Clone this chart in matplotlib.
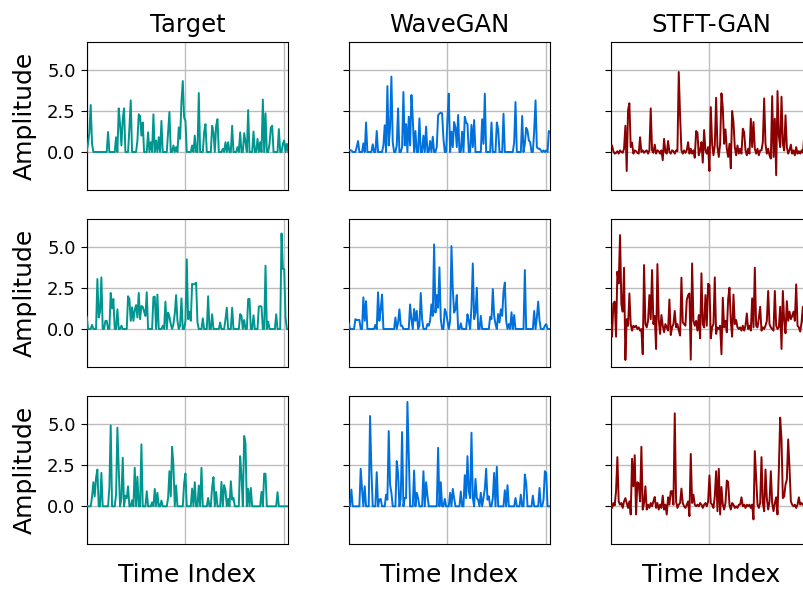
import numpy as np
import matplotlib
matplotlib.use("Agg")
import matplotlib.pyplot as plt

# Column titles and line colours
models = ["Target", "WaveGAN", "STFT-GAN"]
colors = ["#00968f", "#0070dc", "#8b0000"]
y_ticks = [0.0, 2.5, 5.0]
n_samples = 4096

# Amplitude traces, one row per example
target_1 = [0, 0.5, 1.2, 2.87, 0.5, 0, 0, 0, 0, 0,
            0, 0, 0, 0, 0, 0, 1.22, 0, 0, 0,
            0, 0, 0.9, 0, 2.66, 1.7, 0.4, 2.0, 2.66, 0,
            0, 0, 1.48, 3.15, 0, 0, 0, 0, 0.7, 2.3,
            2.2, 1.0, 1.8, 0, 0, 0, 1.2, 0, 0.6, 0,
            2.3, 0, 0.7, 0, 0.9, 0, 1.9, 0, 0, 0,
            0, 1.2, 2.44, 0, 0, 0.4, 0, 0.3, 0, 1.5,
            0.8, 3.07, 4.33, 2.1, 1.9, 0, 0, 0, 0, 0.4,
            0, 1.0, 0, 0, 3.6, 0, 0, 0, 1.2, 1.7,
            0, 0, 0, 0, 1.6, 1.2, 0, 1.6, 2.0, 0,
            0, 0, 0.2, 0, 0.6, 0, 0.6, 0, 0, 1.6,
            0, 0, 0, 0.3, 0, 1.2, 0, 0, 1.15, 0.6,
            0, 2.56, 0, 0, 0, 1.25, 0, 0, 0.8, 0,
            0.6, 0, 3.2, 0, 2.36, 0, 0, 0.5, 1.5, 1.6,
            0, 0, 0, 0, 1.4, 0, 0, 0.5, 0.7, 0,
            0.5, 0]
wavegan_1 = [0.1, 0.1, 0.1, 0, 0, 0, 0.3, 0.67, 0, 0,
             0, 0.53, 0, 1.8, 0, 0, 0, 0, 0.47, 0,
             0, 1.28, 0, 0, 0, 0, 0.4, 1.63, 0, 4.02,
             0.4, 1.5, 4.6, 0.6, 0, 0, 0.4, 2.66, 0, 0,
             0.3, 3.66, 0.4, 1.7, 0, 2.15, 0.4, 3.48, 2.1, 0,
             1.28, 0, 0, 2.05, 0, 0, 1.0, 0, 1.55, 0,
             0, 0.67, 0, 0.93, 0, 0, 0.3, 2.24, 2.34, 2.4,
             2.36, 0.8, 0, 0, 2.0, 3.56, 0, 1.24, 0.3, 1.83,
             1.5, 0.3, 2.26, 0, 0, 1.24, 0, 2.15, 1.8, 1.7,
             0, 0, 1.65, 0.3, 1.95, 0, 0, 0, 0, 0,
             2.0, 0.5, 3.56, 0, 0, 0, 0, 1.8, 0, 0,
             0, 1.8, 1.4, 0, 0, 0, 2.34, 0, 0, 0,
             0, 0, 0, 0, 0.6, 3.05, 0, 0, 0, 0,
             2.2, 0, 0.5, 1.48, 1.3, 0.7, 0.6, 0, 0, 1.28,
             3.15, 0.3, 0.2, 0.2, 0.1, 0, 0.1, 0, 0.1, 0,
             1.28, 1.2]
stftgan_1 = [0.4, 0.4, 0.05, -0.1, -0.05, 0.05, -0.1, 0.1, 0.0, -0.05,
             0.2, 1.6, -1.16, 2.56, 2.97, 0.3, 0.57, -0.1, 0.1, 0.05,
             -0.05, -0.1, 0.9, 0.0, 0.1, -0.05, 0.05, 0.1, -0.1, 0.1,
             2.66, 0.1, -0.05, 0.45, -0.1, 0.1, 0.05, -0.1, 0.1, -0.5,
             0.8, 0.0, -0.1, 0.67, 0.0, -0.1, 0.1, 0.05, -0.1, 0.1,
             0.05, 4.88, 2.2, 0.1, -0.1, 0.1, -0.05, 0.1, 0.6, -0.1,
             0.2, -0.1, 0.1, -0.35, 1.28, 1.18, -0.2, 0.1, 0.6, -0.65,
             1.34, 0.1, -0.1, 0.3, -1.16, 2.74, 0.5, -0.2, 0.4, 3.31,
             0.3, -0.3, 0.5, 3.58, 2.7, 0.5, 1.38, 0.2, -0.3, 0.5,
             -1.0, 2.5, 1.83, 0.3, -0.2, 0.4, -0.1, 0.2, -0.1, 1.42,
             1.22, 0.1, -0.2, 0.2, -0.1, 2.03, 0.3, 1.83, 0.2, -0.1,
             0.2, -0.2, 0.1, 0.1, 0.6, 3.27, 0.5, -0.1, 0.2, -0.2,
             -0.4, 3.41, -0.3, 2.03, -1.42, 3.72, 1.0, 0.3, 3.37, 0.5,
             0.1, 2.24, 0.3, -0.1, 0.1, 0.45, -0.1, 0.1, -0.2, 0.3,
             -0.1, 0.05, -0.1, 0.1, -0.05, 0.98, 0.2, -0.1, 0.1, 0.0,
             -0.1, 0.1]

target_2 = [0.75, 0, 0, 0, 0.25, 0, 0, 0, 3.05, 0.7,
            1.06, 3.15, 0, 0, 0.5, 0.5, 0, 0, 2.2, 1.26,
            1.83, 0, 0, 1.2, 0, 0, 0.2, 0, 0, 0,
            0, 2.0, 1.83, 0.5, 1.32, 0.5, 1.16, 1.46, 0.7, 2.2,
            0.6, 1.4, 1.36, 1.06, 0.8, 2.24, 0, 0, 0, 0,
            1.95, 1.97, 0, 2.1, 0, 0, 0, 0.2, 0, 1.67,
            0, 1.0, 0.75, 0.3, 0, 0.3, 0.93, 2.07, 0.5, 0,
            0.2, 1.87, 0, 0, 0.5, 4.25, 0.6, 1.06, 0.5, 2.76,
            2.72, 2.74, 2.83, 0.4, 0, 0, 0, 0.65, 0, 0,
            0, 2.0, 0, 0, 0.9, 0, 0, 0, 0, 0,
            0.4, 0, 0, 0, 0.6, 1.3, 0, 0, 0, 1.3,
            0, 0, 0, 0, 0, 0.91, 0.8, 0, 0.55, 0,
            0, 1.83, 1.83, 0, 0, 0.83, 0, 0, 0, 1.36,
            1.4, 1.36, 0, 0, 3.86, 0, 0.45, 0, 0, 0,
            0, 0, 0.9, 0, 0, 0, 5.83, 3.66, 3.66, 0.7,
            0, 0]
wavegan_2 = [0.35, 0, 0, 0, 0, 0.6, 0.55, 0.55, 0.55, 0,
             0, 1.93, 0.5, 1.7, 0, 0, 0, 0, 0, 0,
             0.25, 0, 2.24, 0.5, 1.2, 2.1, 0, 0, 0, 0,
             0, 0, 0, 0, 0, 0.7, 0, 0.4, 1.2, 0.2,
             0.2, 0, 0, 0, 0, 0, 1.5, 0.6, 0, 1.22,
             0.5, 1.1, 0, 0.2, 2.2, 0.6, 0, 0, 0, 0.3,
             0.2, 0.5, 1.5, 0.8, 5.16, 1.0, 2.07, 1.3, 3.76, 0.6,
             0, 0, 1.22, 1.0, 0.5, 0, 0.5, 5.06, 2.42, 1.0,
             1.2, 2.07, 0, 0, 0.35, 0, 0, 0, 0, 0.9,
             0.5, 0, 1.32, 4.0, 0.6, 1.0, 2.52, 0, 0, 0.8,
             0, 0, 0, 0, 0, 0, 0.75, 0.6, 2.44, 0.8,
             0.3, 0, 0.91, 0.4, 1.2, 0.8, 2.28, 2.83, 0.5, 0,
             0.3, 0, 1.02, 0, 0.85, 0, 0, 0, 0, 0,
             0, 0, 3.6, 0, 0, 0, 0, 0, 0, 1.1,
             0, 0.7, 1.67, 0.5, 0, 0, 0, 0.2, 0.3, 0,
             0, 0]
stftgan_2 = [0.25, -0.47, 1.56, 1.67, -0.47, 3.5, 2.78, 5.73, 1.5, 1.06,
             3.74, -1.89, 0.6, 0.2, 2.17, 0.3, -0.1, 0.2, 0.1, 0.2,
             0.0, 0.1, -0.1, 0.0, -1.54, 3.9, 0.3, 0.1, 0.5, 2.07,
             0.6, 3.6, 0.3, 0.8, -1.22, 3.96, 0.6, -0.3, 0.85, 0.2,
             -0.2, 0.3, 0.1, -0.1, 1.8, -0.37, 0.1, 0.3, 1.1, 0.1,
             0.3, -0.1, -0.4, 3.13, 0.4, 0.3, 0.2, 1.77, 2.07, 2.17,
             -1.87, 4.0, 0.5, 0.2, 0.5, -0.1, 0.85, -0.57, 3.4, 0.3,
             0.1, 2.07, 0.2, 2.76, 2.68, -0.57, 0.1, 0.3, 3.15, -0.3,
             0.1, 0.0, 0.2, -1.54, 1.91, 0.1, 0.5, -0.2, 1.8, 2.52,
             0.5, -0.47, 2.1, 0.3, 0.55, 0.1, 0.0, 0.1, -0.1, 0.2,
             -0.1, 0.2, 0.95, 0.0, 0.2, -0.1, 1.87, 0.1, 3.74, 0.2,
             0.1, 0.65, 1.36, -0.1, 0.1, 0.0, 0.2, 0.5, 2.32, 0.3,
             0.1, 0.0, -0.1, 2.32, 0.2, 0.0, 0.1, 1.36, -1.22, 2.32,
             0.5, -0.26, 1.7, 0.5, 1.06, 0.6, 0.8, 1.06, 0.5, 2.72,
             0.2, 0.1, -0.16, 0.4, 1.36, -0.06, 0.2, -0.1, 0.3, 0.1,
             -0.2, 0.1]

target_3 = [0, 0, 0, 0, 0.57, 1.47, 0.6, 1.73, 2.24, 0,
            0, 2.04, 0, 0, 0, 0, 0, 1.16, 4.94, 0,
            0, 0, 0.71, 4.8, 2.29, 0, 0.5, 2.96, 0, 0.65,
            0.5, 1.22, 0, 0, 0.37, 0, 2.35, 0, 1.8, 0,
            0, 3.78, 0, 0, 0, 0.92, 0, 0, 0, 0.24,
            0, 1.06, 0, 0.82, 0, 0, 0.35, 0, 0, 0,
            0, 0.51, 2.14, 0.6, 3.63, 2.49, 0, 1.27, 0, 0,
            0, 0, 0, 1.39, 2.0, 0, 0, 0, 0, 1.08,
            0, 1.47, 0, 0, 1.27, 0, 2.35, 0, 0, 0,
            0, 0.51, 0, 0, 1.18, 1.78, 0, 0.88, 0, 0,
            0, 1.49, 0, 1.29, 0.96, 0, 0.45, 0, 1.53, 0.4,
            0.51, 0, 0, 0, 0, 3.06, 1.8, 0, 4.29, 3.84,
            0, 1.06, 0, 1.12, 0, 0, 0, 0, 0, 0,
            0, 0.88, 0, 2.0, 1.98, 0, 0, 0, 0, 0,
            0, 0, 0, 0.86, 0, 0, 0, 0, 0, 0,
            0, 0]
wavegan_3 = [0, 0, 1.02, 0, 0, 0, 0, 0, 0, 2.29,
             1.02, 0, 1.22, 0, 0, 0, 5.51, 2.24, 0, 0,
             0, 2.08, 0, 0.41, 0.45, 0, 0, 0, 0.71, 0.4,
             4.59, 1.33, 0.82, 0, 0, 0, 2.76, 2.0, 0, 0.5,
             4.53, 0, 0.5, 0.5, 6.37, 3.27, 0, 0, 0, 2.18,
             0, 0.82, 0.5, 0, 0, 0, 2.14, 0, 1.47, 0.65,
             0, 0, 0, 0, 0, 0, 0, 3.57, 0, 1.47,
             0, 0, 0.45, 0, 0, 0, 0.82, 0, 1.06, 0.5,
             0, 0, 0, 0, 0.9, 0, 0, 1.9, 0.5, 3.06,
             0.92, 0.5, 4.49, 0.5, 0, 1.67, 0.5, 0.4, 0, 0.82,
             0, 0.5, 1.06, 2.29, 0.4, 0.61, 0, 0, 0.5, 2.04,
             0, 2.41, 0, 0, 0, 0, 0, 0.98, 0, 1.29,
             0, 0, 0, 0, 0, 0.51, 0, 0, 0, 0.71,
             0, 0, 1.94, 1.43, 0, 0, 0, 0, 0.65, 0,
             0, 0, 0, 1.12, 0, 0, 0.4, 2.14, 2.04, 0,
             0, 0]
stftgan_3 = [0.1, -0.1, 0.2, 0.05, 0.92, 3.0, 0.3, 0.1, 0.2, -0.1,
             0.3, 0.5, 0.2, -0.1, 0.3, -0.5, 2.9, 1.22, 3.12, -0.5,
             1.47, 1.39, 0.3, 3.63, -0.2, 0.2, 1.22, -0.2, 0.1, -0.1,
             0.2, 0.0, 0.3, 0.57, -0.1, 0.2, -0.2, 0.1, -0.1, 0.65,
             -0.2, 0.1, -0.5, 0.55, 0.1, 0.92, 0.92, 0.1, 5.67, 0.3,
             -0.1, 0.1, 0.2, 1.08, 0.2, 0.0, -0.1, 0.1, 0.3, -0.6,
             3.2, 0.2, 0.71, 0.1, 0.0, 0.1, 0.0, 0.2, 0.1, -0.1,
             0.1, 0.2, 0.0, 0.3, 1.88, 0.2, 0.1, -0.1, 0.61, 2.14,
             -0.3, 2.29, -0.5, 1.18, 0.1, -0.2, 0.2, 1.57, 1.49, 0.1,
             -0.2, 0.2, 0.1, -0.1, 0.0, -0.1, 0.1, 0.1, 0.55, 0.0,
             0.1, -0.1, 0.1, 0.0, 0.1, -0.1, 0.1, -0.8, 3.37, 1.73,
             0.1, -0.1, 0.2, 3.0, 0.2, -0.3, 2.24, 0.5, -0.2, 0.3,
             2.14, 0.2, -0.3, 0.2, 0.55, -0.5, 2.24, 5.41, 4.08, 0.5,
             0.6, 1.33, 1.63, 4.08, 2.35, 0.3, 0.1, 0.0, 0.1, -0.1,
             0.1, 0.55, 0.1, 0.2, 0.1, 0.0, 0.1, -0.1, 0.2, 0.0,
             0.1, -0.1]

rows = [
    [target_1, wavegan_1, stftgan_1],
    [target_2, wavegan_2, stftgan_2],
    [target_3, wavegan_3, stftgan_3],
]

fig = plt.figure(figsize=(8.04, 5.92), dpi=100)

# Axes placement in pixels (left, top) with a shared size
col_left = [86.7, 348.7, 610.7]
row_top = [41.7, 218.7, 396.0]
ax_w, ax_h = 201.5, 148.0
W, H = 804.0, 592.0

for r in range(3):
    for c in range(3):
        ax = fig.add_axes([col_left[c] / W, 1 - (row_top[r] + ax_h) / H,
                           ax_w / W, ax_h / H])
        series = np.asarray(rows[r][c], dtype=float)
        t = np.linspace(0, n_samples - 1, len(series))
        ax.plot(t, series, color=colors[c], lw=1.4, zorder=3)
        ax.set_xlim(0, n_samples - 1)
        ax.set_ylim(-2.3, 6.73)
        ax.set_xticks([0, 2000, 4000])
        ax.set_yticks(y_ticks)
        ax.grid(True, color="#bdbdbd", lw=1.0)
        ax.set_axisbelow(True)
        ax.tick_params(axis="x", bottom=False, labelbottom=False)
        ax.tick_params(axis="y", labelsize=13, length=4.5, pad=3.5)
        if c == 0:
            ax.set_yticklabels([f"{v:.1f}" for v in y_ticks])
            ax.set_ylabel("Amplitude", fontsize=18, labelpad=7)
        else:
            ax.set_yticklabels([])
        if r == 0:
            ax.set_title(models[c], fontsize=17.5, pad=7)
        if r == 2:
            ax.set_xlabel("Time Index", fontsize=18, labelpad=14)

fig.savefig("out.png", dpi=100)
